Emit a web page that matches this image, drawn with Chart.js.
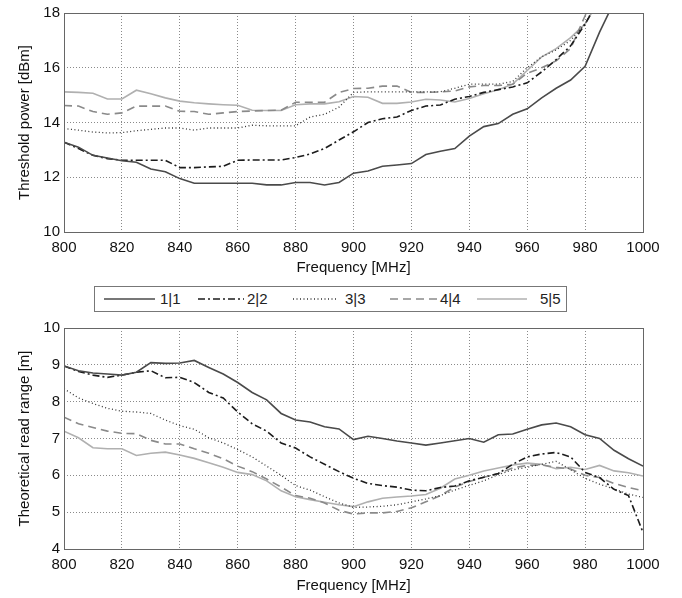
<!DOCTYPE html>
<html lang="en">
<head>
  <meta charset="UTF-8">
  <title>Threshold power and read range</title>
  <script src="https://cdn.jsdelivr.net/npm/chart.js@4.4.1/dist/chart.umd.min.js"></script>
  <style>
    body { margin: 0; background: #fff; font-family: "Liberation Sans", Arial, sans-serif; }
    .box { position: absolute; left: 0; width: 682px; }
    #top-box { top: 0; height: 280px; }
    #bottom-box { top: 315px; height: 283px; }
    #legend { position: absolute; left: 94px; top: 286px; width: 473px; height: 26px; }
  </style>
</head>
<body>

<div id="top-box" class="box"><canvas id="topChart"></canvas></div>

<svg id="legend" width="473" height="26" font-family="Liberation Sans, Arial, sans-serif" font-size="15" fill="#222">
  <rect x="0.5" y="0.5" width="472" height="25" fill="#fff" stroke="#777"/>
</svg>

<div id="bottom-box" class="box"><canvas id="bottomChart"></canvas></div>

<script>
  // frequency axis, MHz
  const freq = [800, 805, 810, 815, 820, 825, 830, 835, 840, 845, 850, 855, 860, 865, 870, 875, 880, 885, 890, 895,
                900, 905, 910, 915, 920, 925, 930, 935, 940, 945, 950, 955, 960, 965, 970, 975, 980, 985, 990, 995, 1000];
  const labels = ["1|1", "2|2", "3|3", "4|4", "5|5"];

  // threshold power [dBm]
  const power11 = [13.28, 13.1, 12.8, 12.7, 12.6, 12.55, 12.3, 12.2, 11.95, 11.78, 11.78, 11.78, 11.78, 11.78, 11.72, 11.72, 11.81, 11.81, 11.72, 11.81,
                   12.15, 12.23, 12.4, 12.45, 12.5, 12.83, 12.95, 13.05, 13.5, 13.85, 13.96, 14.3, 14.5, 14.9, 15.25, 15.55, 16.05, 17.3, 18.4, 19.5, 20.5];
  const power22 = [13.28, 13.05, 12.8, 12.68, 12.62, 12.62, 12.62, 12.62, 12.35, 12.35, 12.38, 12.4, 12.62, 12.63, 12.63, 12.63, 12.72, 12.85, 13.05, 13.36,
                   13.66, 14.0, 14.14, 14.2, 14.44, 14.6, 14.64, 14.85, 14.95, 15.1, 15.2, 15.3, 15.45, 15.85, 16.3, 16.8, 17.6, 18.5, 19.5, 20.5, 21.5];
  const power33 = [13.78, 13.72, 13.65, 13.62, 13.63, 13.7, 13.75, 13.8, 13.8, 13.72, 13.8, 13.8, 13.8, 13.9, 13.88, 13.88, 13.88, 14.2, 14.3, 14.56,
                   15.1, 15.12, 15.12, 15.12, 15.12, 15.12, 15.12, 15.25, 15.4, 15.4, 15.4, 15.5, 16.0, 16.4, 16.65, 17.0, 17.6, 18.6, 19.5, 20.5, 21.5];
  const power44 = [14.62, 14.6, 14.4, 14.3, 14.35, 14.6, 14.6, 14.6, 14.41, 14.4, 14.3, 14.35, 14.4, 14.42, 14.44, 14.45, 14.74, 14.74, 14.74, 15.1,
                   15.24, 15.25, 15.33, 15.33, 15.1, 15.1, 15.12, 15.15, 15.3, 15.35, 15.35, 15.4, 15.8, 16.0, 16.25, 16.7, 17.9, 19.0, 19.8, 20.5, 21.5];
  const power55 = [15.12, 15.1, 15.07, 14.86, 14.86, 15.18, 15.05, 14.9, 14.78, 14.72, 14.68, 14.65, 14.63, 14.45, 14.44, 14.44, 14.65, 14.68, 14.68, 14.76,
                   14.95, 14.92, 14.7, 14.7, 14.75, 14.85, 14.82, 14.75, 14.88, 15.05, 15.2, 15.4, 15.9, 16.4, 16.7, 17.1, 17.6, 18.5, 19.5, 20.5, 21.5];

  // theoretical read range [m]
  const range11 = [8.97, 8.84, 8.78, 8.75, 8.72, 8.8, 9.06, 9.04, 9.05, 9.12, 8.93, 8.75, 8.52, 8.25, 8.05, 7.68, 7.5, 7.45, 7.32, 7.26,
                   6.97, 7.06, 7.0, 6.93, 6.88, 6.82, 6.88, 6.94, 7.0, 6.9, 7.1, 7.12, 7.25, 7.37, 7.42, 7.32, 7.1, 7.0, 6.68, 6.45, 6.25];
  const range22 = [8.97, 8.82, 8.72, 8.66, 8.72, 8.8, 8.84, 8.65, 8.66, 8.52, 8.25, 8.1, 7.72, 7.4, 7.2, 6.88, 6.74, 6.5, 6.3, 6.1,
                   5.92, 5.78, 5.72, 5.68, 5.6, 5.58, 5.67, 5.71, 5.85, 5.95, 6.05, 6.3, 6.5, 6.58, 6.62, 6.5, 6.08, 5.94, 5.62, 5.45, 4.45];
  const range33 = [8.35, 8.1, 7.95, 7.82, 7.74, 7.72, 7.68, 7.5, 7.35, 7.25, 7.02, 6.88, 6.7, 6.5, 6.25, 6.0, 5.72, 5.6, 5.42, 5.25,
                   5.13, 5.14, 5.16, 5.2, 5.28, 5.36, 5.45, 5.6, 5.73, 5.85, 6.02, 6.15, 6.22, 6.3, 6.38, 6.15, 5.92, 5.76, 5.63, 5.49, 5.4];
  const range44 = [7.58, 7.4, 7.3, 7.2, 7.14, 7.13, 6.95, 6.85, 6.85, 6.72, 6.6, 6.45, 6.25, 6.1, 5.9, 5.68, 5.45, 5.38, 5.25, 5.05,
                   4.95, 4.98, 4.98, 5.02, 5.12, 5.28, 5.45, 5.68, 5.83, 5.95, 6.05, 6.2, 6.27, 6.28, 6.22, 6.17, 6.0, 5.94, 5.78, 5.67, 5.58];
  const range55 = [7.2, 7.02, 6.75, 6.72, 6.72, 6.54, 6.6, 6.63, 6.55, 6.46, 6.34, 6.22, 6.08, 6.02, 5.85, 5.58, 5.42, 5.34, 5.27, 5.2,
                   5.15, 5.28, 5.38, 5.41, 5.44, 5.48, 5.65, 5.9, 6.0, 6.12, 6.2, 6.28, 6.33, 6.3, 6.18, 6.22, 6.16, 6.27, 6.12, 6.07, 5.98];

  // line look per series
  const lineColors = ["#4a4a4a", "#1c1c1c", "#333333", "#8a8a8a", "#b0b0b0"];
  const lineDashes = [[], [7, 3, 2, 3], [1, 2.5], [8, 5], []];
  const lineWidths = [1.6, 1.6, 1.3, 1.6, 1.6];

  const fontFamily = "'Liberation Sans', Arial, sans-serif";

  // MATLAB style box around the plot area
  const frame = {
    id: "frame",
    afterDraw(chart) {
      const a = chart.chartArea;
      const ctx = chart.ctx;
      ctx.save();
      ctx.strokeStyle = "#666";
      ctx.lineWidth = 1;
      ctx.strokeRect(Math.round(a.left) + 0.5, Math.round(a.top) + 0.5,
                     Math.round(a.right - a.left), Math.round(a.bottom - a.top));
      ctx.restore();
    }
  };

  function makeChart(id, series, yMin, yMax, yStep, yTitle, padTop, xHeight) {
    const datasets = series.map((vals, i) => ({
      label: labels[i],
      data: freq.map((f, j) => ({ x: f, y: vals[j] })),
      borderColor: lineColors[i],
      borderDash: lineDashes[i],
      borderWidth: lineWidths[i],
      pointRadius: 0,
      tension: 0,
      fill: false
    }));

    return new Chart(document.getElementById(id), {
      type: "line",
      data: { datasets: datasets },
      options: {
        responsive: true,
        maintainAspectRatio: false,
        animation: false,
        layout: { padding: { top: padTop, right: 39, left: 0, bottom: 0 } },
        plugins: { legend: { display: false }, tooltip: { enabled: false } },
        scales: {
          x: {
            type: "linear",
            min: 800, max: 1000,
            afterFit: s => { s.height = xHeight; },
            ticks: { stepSize: 20, color: "#111", padding: 7, maxRotation: 0,
                     callback: v => String(v),
                     font: { family: fontFamily, size: 15 } },
            grid: { color: "#8a8a8a", drawTicks: false },
            border: { display: false, dash: [1, 2] },
            title: { display: true, text: "Frequency [MHz]", color: "#111",
                     font: { family: fontFamily, size: 15 }, padding: { top: 0, bottom: 3 } }
          },
          y: {
            min: yMin, max: yMax,
            afterFit: s => { s.width = 64; },
            ticks: { stepSize: yStep, color: "#111", padding: 4,
                     callback: v => String(v),
                     font: { family: fontFamily, size: 15 } },
            grid: { color: "#8a8a8a", drawTicks: false },
            border: { display: false, dash: [1, 2] },
            title: { display: true, text: yTitle, color: "#111",
                     font: { family: fontFamily, size: 15 }, padding: { top: 16, bottom: 0 } }
          }
        }
      },
      plugins: [frame]
    });
  }

  makeChart("topChart", [power11, power22, power33, power44, power55], 10, 18, 2, "Threshold power [dBm]", 9, 48);
  makeChart("bottomChart", [range11, range22, range33, range44, range55], 4, 10, 1, "Theoretical read range [m]", 10, 49);

  // legend between the two plots
  const legend = document.getElementById("legend");
  const ns = "http://www.w3.org/2000/svg";
  const lineStart = [10, 104, 199, 296, 383];
  const lineEnd = [61, 150, 243, 343, 433];
  const textStart = [66, 153, 251, 346, 446];
  labels.forEach((name, i) => {
    const ln = document.createElementNS(ns, "line");
    ln.setAttribute("x1", lineStart[i]);
    ln.setAttribute("x2", lineEnd[i]);
    ln.setAttribute("y1", 13);
    ln.setAttribute("y2", 13);
    ln.setAttribute("stroke", lineColors[i]);
    ln.setAttribute("stroke-width", lineWidths[i]);
    if (lineDashes[i].length) ln.setAttribute("stroke-dasharray", lineDashes[i].join(" "));
    legend.appendChild(ln);
    const tx = document.createElementNS(ns, "text");
    tx.setAttribute("x", textStart[i]);
    tx.setAttribute("y", 18);
    tx.textContent = name;
    legend.appendChild(tx);
  });
</script>
</body>
</html>
